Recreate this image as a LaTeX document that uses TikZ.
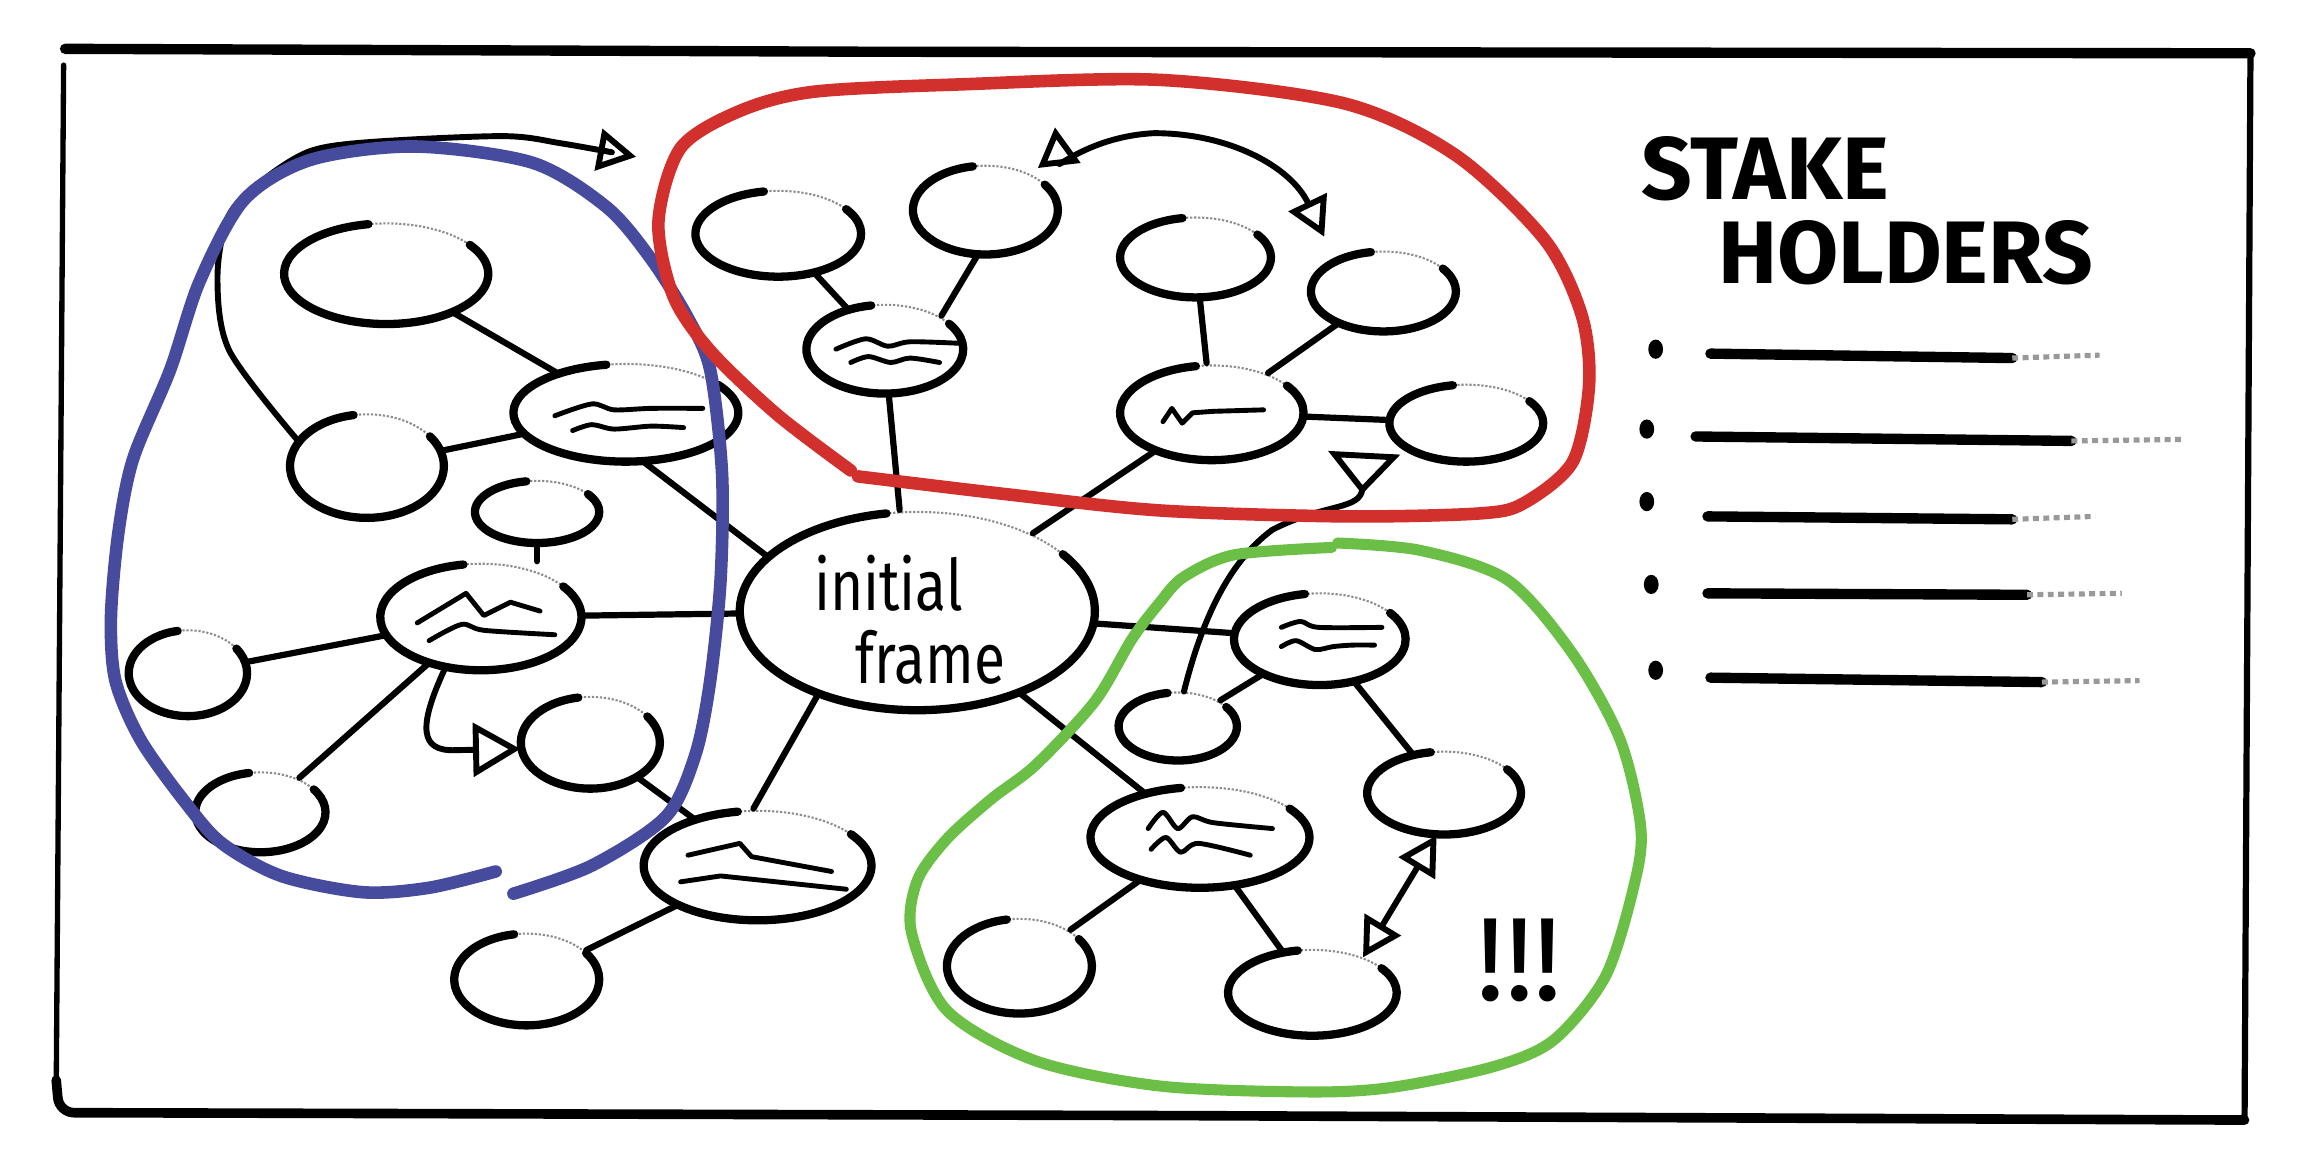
\documentclass[tikz,border=0pt]{standalone}
\usepackage{fontspec}
\usepackage{graphicx}
\setmainfont{Fira Sans}
\usetikzlibrary{shapes.geometric,arrows.meta}
\definecolor{loopblue}{HTML}{474B9E}
\definecolor{loopred}{HTML}{D1302C}
\definecolor{loopgreen}{HTML}{6CBF46}
\tikzset{
  blobnode/.style={ellipse, draw=black!45, line width=1.4pt, dash pattern=on 1.5pt off 1.2pt, inner sep=0pt},
  blobline/.style={line width=5.6pt, line cap=round},
  link/.style={line width=4.2pt, line cap=round, shorten <=1pt, shorten >=1pt},
  arrowlink/.style={line width=4pt, line cap=round, line join=round},
  squig/.style={line width=3.3pt, line cap=round, line join=round},
  hollow/.tip={Triangle[open,length=26pt,width=28pt]},
  bighollow/.tip={Triangle[open,length=32pt,width=36pt]},
  loopline/.style={line width=8.5pt, line cap=round, line join=round},
  bulletline/.style={line width=7pt, line cap=round},
  fadeline/.style={line width=3.5pt, black!40, dash pattern=on 4pt off 3pt},
}
\newcommand\blob[5]{%
  \node[blobnode, minimum width=2*#4pt, minimum height=2*#5pt] (#1) at (#2,-#3) {};
  \draw[blobline] (#2,-#3) ++(100:#4pt and #5pt) arc[start angle=100,end angle=395,x radius=#4pt,y radius=#5pt];
}
\begin{document}
\begin{tikzpicture}[x=1pt,y=1pt]
\useasboundingbox (0,0) rectangle (1568,-784);
% frame
\draw[line width=7pt, line cap=round] (44,-33) -- (600,-35) -- (1521,-36);
\draw[line width=3.6pt, line cap=round] (43,-44) -- (38,-735);
\draw[line width=6.5pt, line cap=round, rounded corners=10pt] (38,-730) -- (40,-752) -- (800,-754) -- (1517,-757);
\draw[line width=4.2pt, line cap=round] (1517,-757) -- (1521,-36);

% nodes
\blob{n1}{261}{185}{69}{34}
\blob{n2}{423}{279}{76}{33}
\blob{n3}{248}{315}{52}{35}
\blob{n4}{363}{346}{42}{21}
\blob{n5}{325}{417}{68}{36}
\blob{n6}{127}{455}{40}{29}
\blob{n7}{399}{502}{47}{31}
\blob{n8}{176}{549}{44}{27}
\blob{n9}{512}{585}{77}{37}
\blob{n10}{356}{662}{49}{31}
\blob{n11}{526}{158}{56}{29}
\blob{n12}{666}{142}{49}{30}
\blob{n13}{598}{236}{53}{30}
\blob{n14}{808}{174}{51}{27}
\blob{n15}{935}{197}{49}{27}
\blob{n16}{819}{279}{62}{32}
\blob{n17}{991}{286}{52}{26}
\blob{c}{620}{413}{120}{67}
\blob{n18}{892}{432}{58}{31}
\blob{n19}{796}{491}{40}{23}
\blob{n20}{976}{536}{52}{28}
\blob{n21}{811}{566}{74}{34}
\blob{n22}{689}{653}{49}{32}
\blob{n23}{887}{671}{57}{29}

\node[anchor=north west, inner sep=0pt, align=left, font=\fontsize{48}{49}\selectfont] (ctext) at (550,-375)
  {\scalebox{0.8}[1]{initial}\\\hspace*{28pt}\scalebox{0.8}[1]{frame}};

% squiggles inside nodes
\draw[squig] plot[smooth] coordinates {(375,-281) (400,-273) (415,-277) (440,-276) (475,-276)};
\draw[squig] plot[smooth] coordinates {(387,-291) (400,-287) (415,-290) (440,-288) (462,-289)};
\draw[squig] (282,-421) -- (315,-401) -- (327,-416) -- (345,-407) -- (365,-413);
\draw[squig] plot[smooth] coordinates {(290,-433) (312,-422) (327,-426) (375,-429)};
\draw[squig] (465,-578) -- (500,-570) -- (508,-579) -- (562,-589);
\draw[squig] (460,-596) -- (487,-592) -- (572,-601);
\draw[squig] plot[smooth] coordinates {(565,-236) (585,-229) (600,-234) (615,-231) (648,-232)};
\draw[squig] plot[smooth] coordinates {(575,-245) (587,-241) (602,-245) (615,-242) (635,-245)};
\draw[squig] (786,-285) -- (792,-276) -- (799,-286) -- (806,-279) -- (820,-278) -- (854,-277);
\draw[squig] plot[smooth] coordinates {(866,-424) (879,-420) (891,-424) (934,-424)};
\draw[squig] plot[smooth] coordinates {(866,-437) (876,-433) (889,-439) (901,-437) (914,-436) (929,-436)};
\draw[squig] plot[smooth] coordinates {(776,-560) (786,-549) (796,-560) (806,-552) (820,-556) (860,-560)};
\draw[squig] plot[smooth] coordinates {(778,-574) (788,-566) (798,-576) (810,-570) (845,-578)};

% connectors
\draw[link] (n1) -- (n2);
\draw[link] (n2) -- (n3);
\draw[link] (n2.-70) -- (c.160);
\draw[link] (n4) -- (n4 |- n5.north);
\draw[link] (n5) -- (n6);
\draw[link] (n5) -- (c);
\draw[link] (n5) -- (n8);
\draw[link] (n7) -- (n9);
\draw[link] (c.-140) -- (n9.95);
\draw[link] (n9) -- (n10);
\draw[link] (n11) -- (n13);
\draw[link] (n12.-100) -- (n13.30);
\draw[link] (n13.-85) -- (c.100);
\draw[link] (n14) -- (n16);
\draw[link] (n15) -- (n16);
\draw[link] (n16) -- (n17);
\draw[link] (n16) -- (c);
\draw[link] (c) -- (n18);
\draw[link] (n18) -- (n19);
\draw[link] (n18) -- (n20);
\draw[link] (c) -- (n21);
\draw[link] (n21) -- (n22);
\draw[link] (n21) -- (n23);

% arrows
\coordinate (tA) at (430,-106);
\draw[arrowlink, -{hollow}] plot[smooth] coordinates {(n3.160) (155,-237) (147,-187) (155,-145) (180,-120) (210,-102) (250,-96) (340,-92) (380,-97) (tA)};
\draw[arrowlink, -{bighollow}] (n5.-125) .. controls (282,-492) and (284,-508) .. (308,-507) -- (n7.185);
\coordinate (rA) at (713,-86);
\coordinate (rB) at (895,-160);
\draw[arrowlink, {hollow}-{hollow}] (rA) .. controls (716,-112) and (740,-92) .. (780,-90) .. controls (830,-90) and (872,-112) .. (rB);
\coordinate (r17) at (922,-306);
\draw[arrowlink, -{Triangle[open,reversed,length=28pt,width=48pt]}] (n19.80) .. controls (812,-420) and (830,-380) .. (860,-358) .. controls (895,-340) and (920,-345) .. (r17);
\draw[arrowlink, {hollow}-{hollow}] (n20.-100) -- (n23.35);

% stakeholders
\node[anchor=north west, inner sep=0pt, align=left, font=\fontsize{60}{57}\selectfont\bfseries] (title) at (1109,-92) {STAKE\\\hspace*{52pt}HOLDERS};
\fill (1119,-236) ellipse [x radius=5pt, y radius=6.5pt];
\fill (1113,-290) ellipse [x radius=5pt, y radius=6.5pt];
\fill (1113,-339) ellipse [x radius=5pt, y radius=6.5pt];
\fill (1116,-395) ellipse [x radius=5pt, y radius=6.5pt];
\fill (1119,-453) ellipse [x radius=5pt, y radius=6.5pt];
\draw[bulletline] (1156,-239) -- (1360,-242);
\draw[fadeline] (1360,-242) -- (1419,-240);
\draw[bulletline] (1146,-295) -- (1400,-298);
\draw[fadeline] (1400,-298) -- (1474,-297);
\draw[bulletline] (1154,-349) -- (1360,-351);
\draw[fadeline] (1360,-351) -- (1416,-349);
\draw[bulletline] (1154,-401) -- (1370,-402);
\draw[fadeline] (1370,-402) -- (1434,-401);
\draw[bulletline] (1156,-458) -- (1380,-461);
\draw[fadeline] (1380,-461) -- (1446,-460);

\node[font=\fontsize{80}{80}\selectfont, inner sep=0pt] (bang) at (1027,-649) {!!!};

% group loops
\draw[loopline, loopblue] plot[smooth] coordinates {(335,-589) (290,-600) (245,-603) (190,-592) (150,-570) (125,-542) (95,-500) (78,-460) (75,-417) (80,-360) (90,-310) (115,-250) (135,-190) (165,-135) (210,-108) (280,-99) (360,-110) (410,-140) (440,-175) (465,-215) (480,-250) (488,-320) (487,-392) (480,-460) (470,-510) (450,-552) (400,-585) (347,-604)};
\draw[loopline, loopred] plot[smooth] coordinates {(575,-318) (525,-280) (480,-237) (455,-200) (445,-150) (460,-100) (500,-75) (550,-62) (650,-57) (784,-54) (909,-70) (984,-105) (1044,-162) (1069,-213) (1074,-260) (1063,-312) (1030,-340) (1000,-347) (909,-349) (784,-345) (680,-334) (580,-322)};
\draw[loopline, loopgreen, line width=7.5pt] plot[smooth] coordinates {(904,-367) (960,-372) (1019,-392) (1063,-442) (1095,-500) (1109,-560) (1104,-600) (1085,-660) (1050,-703) (1009,-721) (940,-735) (884,-738) (784,-734) (700,-717) (640,-683) (616,-630) (620,-595) (640,-567) (670,-540) (700,-517) (740,-474) (765,-432) (784,-407) (800,-390) (834,-375) (900,-370)};
\end{tikzpicture}
\end{document}
